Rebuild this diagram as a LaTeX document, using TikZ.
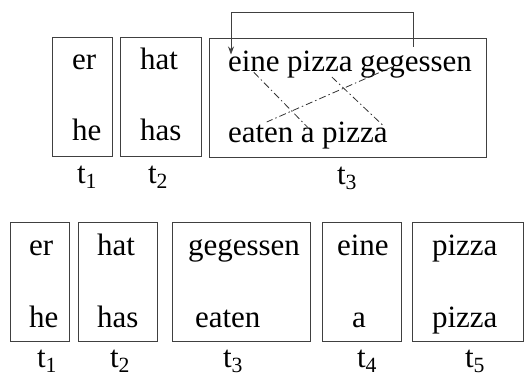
\documentclass[tikz,border=0pt]{standalone}
\usepackage{fontspec}
\setmainfont{Liberation Serif}
\usetikzlibrary{positioning, calc, arrows.meta}
\tikzset{
	tbox/.style={draw=black!75, line width=0.8pt, minimum height=119pt, inner sep=0pt}
}
\tikzset{
	word/.style={font=\fontsize{31}{37}\selectfont, inner sep=0pt, outer sep=0pt, anchor=base west}
}
\tikzset{
	link/.style={line width=0.8pt, black!80, dash pattern=on 7pt off 3pt on 1.5pt off 3pt}
}

\begin{document}
\begin{tikzpicture}[>={Stealth[length=8pt,width=6pt]}, x=1pt, y=1pt]
      \useasboundingbox (0,0) rectangle (529,378);
      % upper row
      \node[tbox, minimum width=60pt] (a1) at (82,281.5) {};
      \node[tbox, minimum width=81pt] (a2) at (160.5,281.5) {};
      \node[tbox, minimum width=277pt] (a3) at (347.5,280.5) {};
      \node[word] (er) at (72,308) {er};
      \node[word] (he) at (72,238) {he};
      \node[word] (hat) at (140,308) {hat};
      \node[word] (has) at (140,238) {has};
      \node[word] (eine) at (228,306) {eine};
      \node[word, base right=7.5pt of eine] (pizzaA) {pizza};
      \node[word, base right=7.5pt of pizzaA] (gegessen) {gegessen};
      \node[word] (eaten) at (228,236) {eaten};
      \node[word, base right=7.5pt of eaten] (aB) {a};
      \node[word, base right=7.5pt of aB] (pizzaB) {pizza};
      \node[word] (ta1) at (77,195) {t\textsubscript{1}};
      \node[word] (ta2) at (148,195) {t\textsubscript{2}};
      \node[word] (ta3) at (337,194) {t\textsubscript{3}};
      \draw[link] (eine.south) -- (aB.north);
      \draw[link] ($(pizzaA.base)+(12,-5)$) -- ($(pizzaB.base east)+(-5,17)$);
      \draw[link] ($(gegessen.base west)+(32,5)$) -- ($(eaten.base)+(6,20)$);
      \draw[->, line width=0.8pt, black!75] ($(gegessen.north)+(-3,9.5)$) -- ++(0,34.5) -| ($(eine.north west)+(3,-3)$);
      % lower row
      \node[tbox, minimum width=59pt] (b1) at (39.5,96.5) {};
      \node[tbox, minimum width=79pt] (b2) at (117.5,96.5) {};
      \node[tbox, minimum width=138pt] (b3) at (241,96.5) {};
      \node[tbox, minimum width=79pt] (b4) at (361.5,96.5) {};
      \node[tbox, minimum width=111pt] (b5) at (467.5,96.5) {};
      \node[word] (erB) at (29,123) {er};
      \node[word] (heB) at (29,51) {he};
      \node[word] (hatB) at (97,123) {hat};
      \node[word] (hasB) at (97,51) {has};
      \node[word] (gegessenB) at (188,123) {gegessen};
      \node[word] (eatenB) at (195,51) {eaten};
      \node[word] (eineB) at (337,123) {eine};
      \node[word] (aC) at (352,51) {a};
      \node[word] (pizzaC) at (432,123) {pizza};
      \node[word] (pizzaD) at (432,51) {pizza};
      \node[word] (tb1) at (37,11) {t\textsubscript{1}};
      \node[word] (tb2) at (110,11) {t\textsubscript{2}};
      \node[word] (tb3) at (223,11) {t\textsubscript{3}};
      \node[word] (tb4) at (357,11) {t\textsubscript{4}};
      \node[word] (tb5) at (465,11) {t\textsubscript{5}};
\end{tikzpicture}
\end{document}
